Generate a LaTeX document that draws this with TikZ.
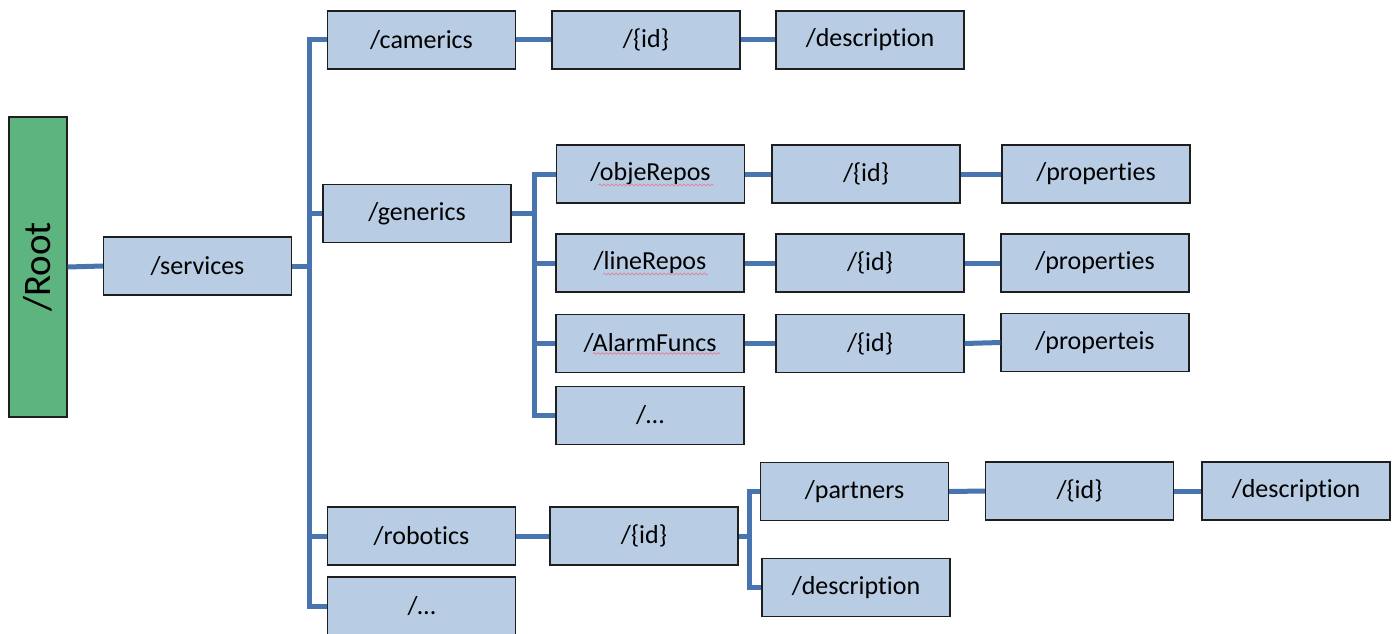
\documentclass[tikz,border=0pt]{standalone}
\usepackage{fontspec}
\setmainfont{Carlito}[Ligatures={NoCommon,NoContextual}]
\usetikzlibrary{decorations.pathmorphing}
\definecolor{boxfill}{RGB}{184,204,228}
\definecolor{rootfill}{RGB}{94,180,127}
\definecolor{boxline}{RGB}{30,30,30}
\definecolor{linkblue}{RGB}{72,116,176}
\definecolor{spellred}{RGB}{225,130,150}
\tikzset{
  pbox/.style={draw=boxline, line width=1.3pt, fill=boxfill, inner sep=0pt,
    minimum width=188pt, minimum height=58pt, font=\fontsize{26}{30}\selectfont},
  rootbox/.style={draw=boxline, line width=1.3pt, fill=rootfill, inner sep=0pt,
    minimum width=58pt, minimum height=300pt},
  conn/.style={draw=linkblue, line width=5pt, line join=miter},
  squig/.style={draw=spellred, line width=0.7pt,
    decorate, decoration={snake, amplitude=0.9pt, segment length=4pt}}
}
\begin{document}
\begin{tikzpicture}[x=1pt, y=-1pt]
\useasboundingbox (0,0) rectangle (1400,634);

% root and first level
\node[rootbox] (root) at (38,267) {};
\node[rotate=90, font=\fontsize{39}{44}\selectfont] (rootlbl) at (root.center) {/Root};
\node[pbox] (services) at (197.5,266) {/services};

% trunk x positions
\coordinate (tA) at (309,0);
\coordinate (tB) at (534,0);
\coordinate (tC) at (749,0);

% services children
\node[pbox] (camerics) at (421.5,40) {/camerics};
\node[pbox] (camid)    at (646,40)   {/\{id\}};
\node[pbox] (camdesc)  at (870,40)   {/description};
\node[pbox] (generics) at (417,213.5) {/generics};
\node[pbox] (robotics) at (421.5,536) {/robotics};
\node[pbox] (sdots)    at (421.5,606) {/\ldots};

% generics children
\node[pbox] (obje)     at (650.5,174) {/objeRepos};
\node[pbox] (objeid)   at (866,174)   {/\{id\}};
\node[pbox] (objeprop) at (1096,174)  {/properties};
\node[pbox] (line)     at (650,263)   {/lineRepos};
\node[pbox] (lineid)   at (870,263)   {/\{id\}};
\node[pbox] (lineprop) at (1095,263)  {/properties};
\node[pbox] (alarm)    at (650,343.5) {/AlarmFuncs};
\node[pbox] (alarmid)  at (870,343.5) {/\{id\}};
\node[pbox] (alarmprop) at (1095,342.5) {/properteis};
\node[pbox] (gdots)    at (650,415.5) {/\ldots};

% robotics children
\node[pbox] (robid)    at (644,536)   {/\{id\}};
\node[pbox] (partners) at (854.5,491.5) {/partners};
\node[pbox] (partid)   at (1079.5,491) {/\{id\}};
\node[pbox] (partdesc) at (1296,491)  {/description};
\node[pbox] (robdesc)  at (856,587.5) {/description};

% connectors
\draw[conn] (root.east) -- (services.west);
\draw[conn] (services.east) -- (services.east -| tA);
\draw[conn] (camerics.west) -- (camerics.west -| tA) -- (sdots.west -| tA) -- (sdots.west);
\draw[conn] (generics.west -| tA) -- (generics.west);
\draw[conn] (robotics.west -| tA) -- (robotics.west);
\draw[conn] (camerics.east) -- (camid.west);
\draw[conn] (camid.east) -- (camdesc.west);

\draw[conn] (generics.east) -- (generics.east -| tB);
\draw[conn] (obje.west) -- (obje.west -| tB) -- (gdots.west -| tB) -- (gdots.west);
\draw[conn] (line.west -| tB) -- (line.west);
\draw[conn] (alarm.west -| tB) -- (alarm.west);
\draw[conn] (obje.east) -- (objeid.west);
\draw[conn] (objeid.east) -- (objeprop.west);
\draw[conn] (line.east) -- (lineid.west);
\draw[conn] (lineid.east) -- (lineprop.west);
\draw[conn] (alarm.east) -- (alarmid.west);
\draw[conn] (alarmid.east) -- (alarmprop.west);

\draw[conn] (robotics.east) -- (robid.west);
\draw[conn] (robid.east) -- (robid.east -| tC);
\draw[conn] (partners.west) -- (partners.west -| tC) -- (robdesc.west -| tC) -- (robdesc.west);
\draw[conn] (partners.east) -- (partid.west);
\draw[conn] (partid.east) -- (partdesc.west);

% spell-check marks under the repository names
\draw[squig] ([xshift=-52pt, yshift=-11pt]obje.center) -- ([xshift=63pt, yshift=-11pt]obje.center);
\draw[squig] ([xshift=-47pt, yshift=-11pt]line.center) -- ([xshift=58pt, yshift=-11pt]line.center);
\draw[squig] ([xshift=-57pt, yshift=-10pt]alarm.center) -- ([xshift=70pt, yshift=-10pt]alarm.center);
\end{tikzpicture}
\end{document}
